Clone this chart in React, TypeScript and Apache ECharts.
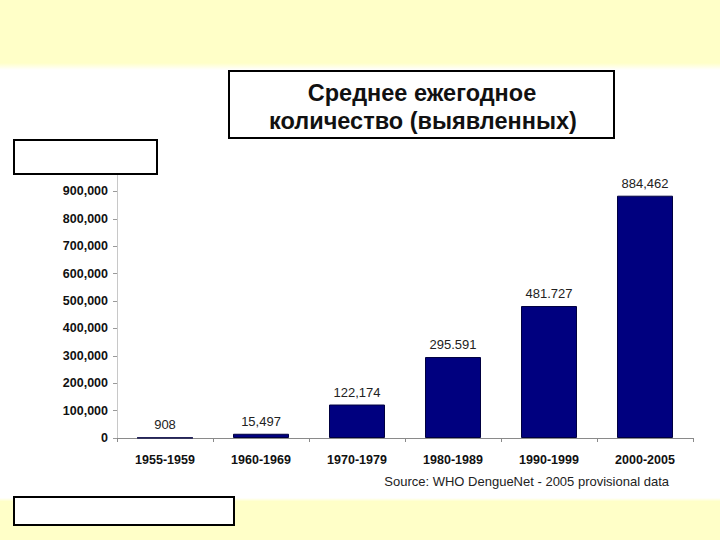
import React, { useEffect, useRef } from "react";
import * as echarts from "echarts";

const categories = ["1955-1959", "1960-1969", "1970-1979", "1980-1989", "1990-1999", "2000-2005"];
const cases = [908, 15497, 122174, 295591, 481727, 884462];
const caseLabels = ["908", "15,497", "122,174", "295.591", "481.727", "884,462"];
const yTicks = [0, 100000, 200000, 300000, 400000, 500000, 600000, 700000, 800000, 900000];
const titleLines = ["Среднее ежегодное", "количество (выявленных)"];
const sourceText = "Source: WHO DengueNet - 2005 provisional data";

const FONT = '"Liberation Sans", Arial, sans-serif';

export default function App() {
  const ref = useRef<HTMLDivElement>(null);
  useEffect(() => {
    if (!ref.current) return;
    const chart = echarts.init(ref.current, undefined, { renderer: "svg" });
    chart.setOption({
      animation: false,
      backgroundColor: "#ffffff",
      textStyle: { fontFamily: FONT },
      grid: { left: 117, right: 27, top: 175, bottom: 102, containLabel: false },
      xAxis: {
        type: "category",
        data: categories,
        boundaryGap: true,
        axisLine: { show: true, lineStyle: { color: "#8a8a8a", width: 1 } },
        axisTick: { show: true, length: 4, alignWithLabel: false, lineStyle: { color: "#8a8a8a" } },
        axisLabel: { fontFamily: FONT, fontSize: 12.5, fontWeight: "bold", color: "#111", margin: 15 },
        splitLine: { show: false },
      },
      yAxis: {
        type: "value",
        min: 0,
        max: 960000,
        interval: 100000,
        axisLine: { show: true, lineStyle: { color: "#c8c8c8", width: 1 } },
        axisTick: { show: true, length: 4, inside: false, customValues: yTicks, lineStyle: { color: "#9a9a9a" } },
        axisLabel: {
          fontFamily: FONT,
          fontSize: 12.5,
          fontWeight: "bold",
          color: "#111",
          margin: 9,
          customValues: yTicks,
          formatter: (v: number) => (v === 0 ? "0" : v.toLocaleString("en-US")),
        },
        splitLine: { show: false },
      },
      series: [
        {
          type: "bar",
          data: cases,
          barWidth: 56,
          itemStyle: { color: "#00007f", borderColor: "#000040", borderWidth: 1 },
          label: {
            show: true,
            position: "top",
            distance: 6,
            fontFamily: FONT,
            fontSize: 13,
            color: "#222",
            formatter: (p: any) => caseLabels[p.dataIndex],
          },
        },
      ],
      graphic: [
        {
          type: "rect",
          z: -10,
          silent: true,
          shape: { x: 0, y: 0, width: 720, height: 70 },
          style: {
            fill: new echarts.graphic.LinearGradient(0, 0, 0, 1, [
              { offset: 0, color: "#ffffc8" },
              { offset: 0.9, color: "#ffffc8" },
              { offset: 1, color: "#ffffff" },
            ]),
          },
        },
        {
          type: "rect",
          z: -10,
          silent: true,
          shape: { x: 0, y: 498, width: 720, height: 42 },
          style: {
            fill: new echarts.graphic.LinearGradient(0, 0, 0, 1, [
              { offset: 0, color: "#ffffff" },
              { offset: 0.08, color: "#ffffc8" },
              { offset: 1, color: "#ffffc8" },
            ]),
          },
        },
        {
          type: "rect",
          z: 10,
          shape: { x: 229, y: 71, width: 385, height: 67 },
          style: { fill: "#ffffff", stroke: "#000", lineWidth: 2 },
        },
        {
          type: "text",
          z: 11,
          x: 422,
          y: 93,
          style: {
            text: titleLines[0],
            fontFamily: FONT,
            fontSize: 23.5,
            fontWeight: "bold",
            fill: "#111",
            align: "center",
            verticalAlign: "middle",
          },
        },
        {
          type: "text",
          z: 11,
          x: 423,
          y: 121,
          style: {
            text: titleLines[1],
            fontFamily: FONT,
            fontSize: 23.5,
            fontWeight: "bold",
            fill: "#111",
            align: "center",
            verticalAlign: "middle",
          },
        },
        {
          type: "rect",
          z: 10,
          shape: { x: 14, y: 140, width: 143, height: 34 },
          style: { fill: "#ffffff", stroke: "#000", lineWidth: 2 },
        },
        {
          type: "rect",
          z: 10,
          shape: { x: 14, y: 497, width: 220, height: 28 },
          style: { fill: "#ffffff", stroke: "#000", lineWidth: 2 },
        },
        {
          type: "text",
          z: 11,
          x: 669,
          y: 481,
          style: {
            text: sourceText,
            fontFamily: FONT,
            fontSize: 13,
            fill: "#222",
            align: "right",
            verticalAlign: "middle",
          },
        },
      ],
    });
    return () => chart.dispose();
  }, []);
  return (
    <div
      ref={ref}
      style={{ position: "absolute", left: 0, top: 0, width: 720, height: 540 }}
    />
  );
}
